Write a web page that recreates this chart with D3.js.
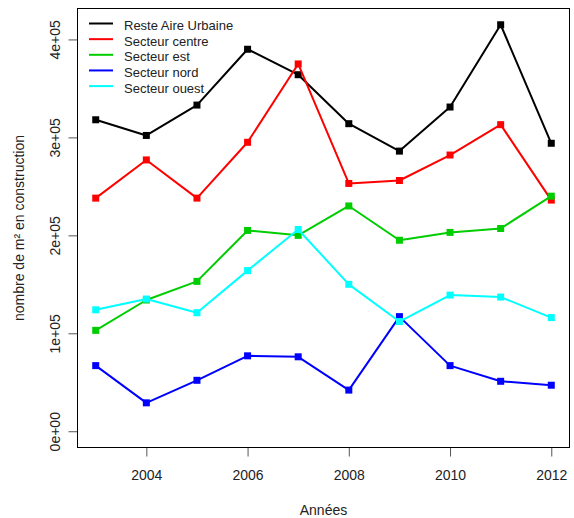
<!DOCTYPE html>
<html><head><meta charset="utf-8">
<script src="https://cdn.jsdelivr.net/npm/d3@7/dist/d3.min.js"></script>
<style>body{margin:0;background:#fff}svg{display:block;font-family:"Liberation Sans",Arial,sans-serif}</style>
</head><body>
<script>
const years = [2003,2004,2005,2006,2007,2008,2009,2010,2011,2012];
const seriesNames = ["Reste Aire Urbaine","Secteur centre","Secteur est","Secteur nord","Secteur ouest"];
const seriesColors = ["#000000","#ff0000","#00cd00","#0000ff","#00ffff"];
const resteAire = [318000,302000,333000,390000,364000,314000,286000,331000,415000,294000];
const centre = [238000,277000,238000,295000,375000,253000,256000,282000,313000,236000];
const est = [103000,134000,153000,205000,200000,230000,195000,203000,207000,240000];
const nord = [67000,29000,52000,77000,76000,42000,117000,67000,51000,47000];
const ouest = [124000,135000,121000,164000,206000,150000,112000,139000,137000,116000];
const yTicks = [0,100000,200000,300000,400000];
const yTickLabels = ["0e+00","1e+05","2e+05","3e+05","4e+05"];
const xTicks = [2004,2006,2008,2010,2012];

(function(){
const allSeries = [resteAire, centre, est, nord, ouest];
const W = 574, H = 518;
const svg = d3.select("body").append("svg").attr("width", W).attr("height", H);

const pL = 77.5, pR = 569.5, pT = 8.5, pB = 447.5;
const xPad = (2012-2003)*0.04;
const x = d3.scaleLinear().domain([2003 - xPad, 2012 + xPad]).range([pL, pR]);
const yMax = 415000, yPad = yMax*0.04;
const y = d3.scaleLinear().domain([-yPad, yMax + yPad]).range([pB, pT]);

// axes
const yAxis = svg.append("g").attr("transform", `translate(${pL},0)`)
  .call(d3.axisLeft(y).tickValues(yTicks).tickSize(9).tickSizeOuter(0)
    .tickFormat((d,i) => yTickLabels[i]));
yAxis.select(".domain").remove();
yAxis.selectAll(".tick line").attr("stroke", "#555");
yAxis.selectAll(".tick text")
  .attr("x", null).attr("dy", null)
  .attr("transform", "translate(-18,0) rotate(-90)")
  .attr("text-anchor", "middle")
  .attr("font-size", 14).attr("fill", "#222")
  .attr("font-family", '"Liberation Sans",Arial,sans-serif');

const xAxis = svg.append("g").attr("transform", `translate(0,${pB})`)
  .call(d3.axisBottom(x).tickValues(xTicks).tickSize(9).tickSizeOuter(0).tickFormat(d3.format("d")));
xAxis.select(".domain").remove();
xAxis.selectAll(".tick line").attr("stroke", "#555");
xAxis.selectAll(".tick text").attr("y", 32).attr("dy", null)
  .attr("font-size", 14).attr("fill", "#222")
  .attr("font-family", '"Liberation Sans",Arial,sans-serif');

// frame
svg.append("rect").attr("x", pL).attr("y", pT).attr("width", pR-pL).attr("height", pB-pT)
  .attr("fill", "none").attr("stroke", "#000").attr("stroke-width", 1);

// titles
svg.append("text").attr("x", (pL+pR)/2).attr("y", 515).attr("text-anchor", "middle")
  .attr("font-size", 14).attr("fill", "#222").text("Années");
svg.append("text").attr("transform", `translate(24,${(pT+pB)/2}) rotate(-90)`).attr("text-anchor", "middle")
  .attr("font-size", 14).attr("fill", "#222").text("nombre de m² en construction");

// lines and markers
const line = d3.line().x((d,i) => x(years[i])).y(d => y(d));
allSeries.forEach((vals, k) => {
  svg.append("path").datum(vals).attr("d", line).attr("fill", "none")
    .attr("stroke", seriesColors[k]).attr("stroke-width", 2).attr("stroke-linejoin", "round");
  svg.append("g").selectAll("rect").data(vals).join("rect")
    .attr("x", (d,i) => x(years[i]) - 3.5).attr("y", d => y(d) - 3.5)
    .attr("width", 7).attr("height", 7).attr("fill", seriesColors[k]);
});

// legend
const lg = svg.append("g");
seriesNames.forEach((n, k) => {
  const ly = 23.5 + k*15.65;
  lg.append("line").attr("x1", 89).attr("x2", 113).attr("y1", ly).attr("y2", ly)
    .attr("stroke", seriesColors[k]).attr("stroke-width", 2);
  lg.append("text").attr("x", 124).attr("y", ly + 6.5).attr("font-size", 13).attr("fill", "#222").text(n);
});
})();
</script>
</body></html>
